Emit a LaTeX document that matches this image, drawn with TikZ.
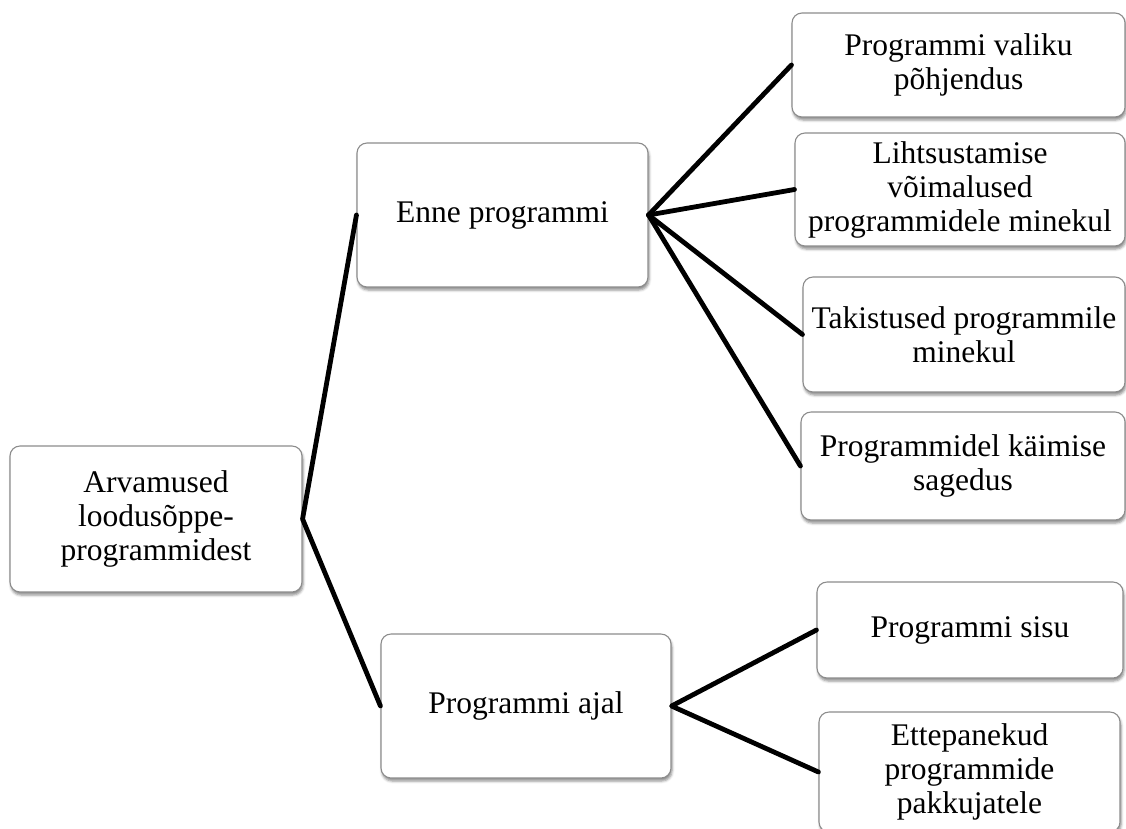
\documentclass[tikz,border=0pt]{standalone}
\usepackage{fontspec}
\setmainfont{Liberation Serif}
\usetikzlibrary{shadows.blur}
\definecolor{boxgray}{RGB}{140,140,140}
\begin{document}
\begin{tikzpicture}[x=1pt,y=-1pt,
  box/.style={draw=boxgray, line width=1.1pt, rounded corners=10pt, fill=white,
    align=center, inner sep=0pt, font=\fontsize{31.5}{34}\selectfont,
    blur shadow={shadow xshift=1pt, shadow yshift=-3pt, shadow blur radius=2.5pt, shadow opacity=45}},
  link/.style={line width=4.8pt, black, line cap=round, line join=round}]
\clip (0,0) rectangle (1126,828);
\node[box, minimum width=292pt, minimum height=146pt] (root) at (156,519) {Arvamused\\loodusõppe-\\programmidest};
\node[box, minimum width=291pt, minimum height=144pt] (enne) at (502.5,215) {Enne programmi};
\node[box, minimum width=290pt, minimum height=144pt] (ajal) at (526,706) {Programmi ajal};
\node[box, minimum width=333pt, minimum height=104pt] (valik) at (958.5,65) {Programmi valiku\\põhjendus};
\node[box, minimum width=330pt, minimum height=113pt] (lihts) at (960,189.5) {Lihtsustamise\\võimalused\\programmidele minekul};
\node[box, minimum width=322pt, minimum height=115pt] (takist) at (964,334.5) {Takistused programmile\\minekul};
\node[box, minimum width=324pt, minimum height=108pt] (sagedus) at (963,466) {Programmidel käimise\\sagedus};
\node[box, minimum width=306pt, minimum height=96pt] (sisu) at (970,630) {Programmi sisu};
\node[box, minimum width=301pt, minimum height=120pt] (ettep) at (969.5,772) {Ettepanekud\\programmide\\pakkujatele};
\draw[link] (enne.west) -- (root.east) -- (ajal.west);
\draw[link] (enne.east) -- (valik.west);
\draw[link] (enne.east) -- (lihts.west);
\draw[link] (enne.east) -- (takist.west);
\draw[link] (enne.east) -- (sagedus.west);
\draw[link] (sisu.west) -- (ajal.east) -- (ettep.west);
\end{tikzpicture}
\end{document}
